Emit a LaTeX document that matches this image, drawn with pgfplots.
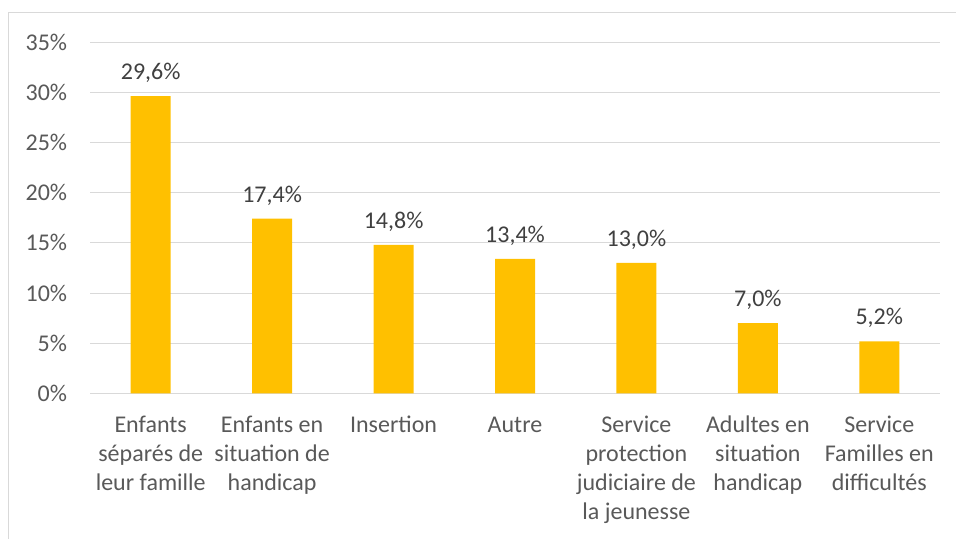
\documentclass[border=0pt]{standalone}
\usepackage{pgfplots}
\pgfplotsset{compat=1.18}
\usepackage{fontspec}
\setmainfont{Carlito}
\definecolor{bargold}{HTML}{FFC000}
\definecolor{gridgray}{HTML}{D9D9D9}
\definecolor{ticktext}{HTML}{595959}
\definecolor{labtext}{HTML}{404040}
\begin{document}
\begin{tikzpicture}
\useasboundingbox (-67.5pt,-109.1pt) rectangle (649.5pt,295.1pt);
\draw[gridgray, line width=0.75pt] (-60.75pt,-120pt) -- (-60.75pt,285.4pt) -- (660pt,285.4pt);
\begin{axis}[
  at={(0,0)}, anchor=south west,
  scale only axis, width=637.5pt, height=263.6pt,
  xmin=-0.5, xmax=6.5, ymin=0, ymax=35,
  ybar, bar width=30pt,
  axis line style={draw=none},
  major tick length=0pt,
  ytick={0,5,...,35},
  yticklabel={\pgfmathprintnumber{\tick}\%},
  /pgf/number format/assume math mode=true,
  ymajorgrids, grid style={gridgray, line width=0.75pt},
  xtick={0,...,6},
  typeset ticklabels with strut,
  xticklabels={Enfants\\séparés de\\leur famille, Enfants en\\situation de\\handicap, Insertion, Autre, Service\\protection\\judiciaire de\\la jeunesse, Adultes en\\situation\\handicap, Service\\Familles en\\difficultés},
  xticklabel style={align=center, anchor=north, inner sep=0pt, yshift=-14pt, font=\fontsize{18}{21.75}\selectfont, text=ticktext},
  yticklabel style={anchor=east, inner sep=0pt, xshift=-17pt, font=\fontsize{18}{20}\selectfont, text=ticktext},
  nodes near coords={\pgfmathprintnumber[fixed,fixed zerofill,precision=1,use comma]{\pgfplotspointmeta}\%},
  every node near coord/.append style={anchor=base, yshift=12.4pt, font=\fontsize{18}{20}\selectfont, text=labtext, inner sep=0pt},
]
\addplot[fill=bargold, draw=none] coordinates {(0,29.6) (1,17.4) (2,14.8) (3,13.4) (4,13.0) (5,7.0) (6,5.2)};
\end{axis}
\end{tikzpicture}
\end{document}
